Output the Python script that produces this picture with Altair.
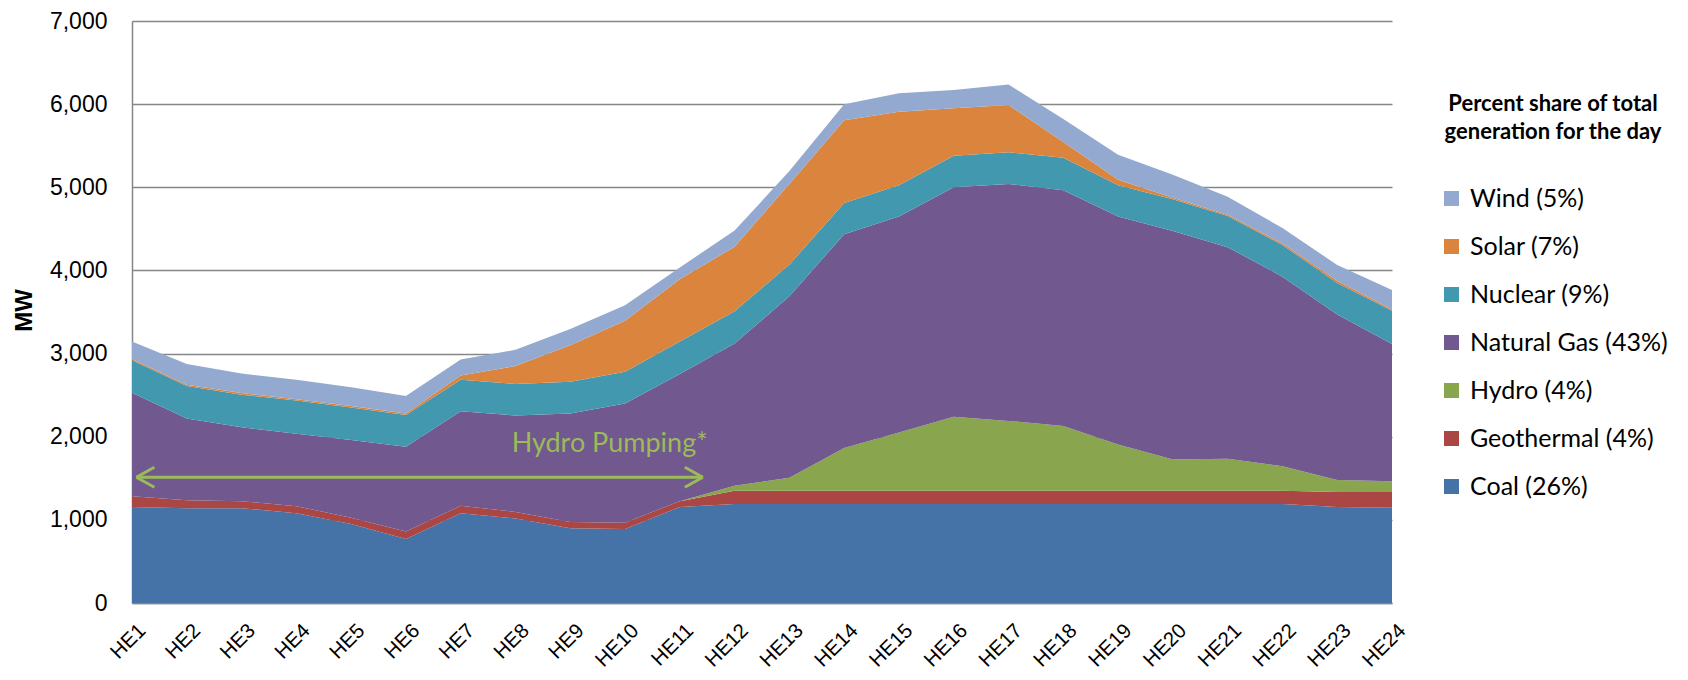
import altair as alt
import pandas as pd

# ---- data (MW) ----
hours = ["HE1", "HE2", "HE3", "HE4", "HE5", "HE6", "HE7", "HE8", "HE9", "HE10", "HE11", "HE12",
         "HE13", "HE14", "HE15", "HE16", "HE17", "HE18", "HE19", "HE20", "HE21", "HE22", "HE23", "HE24"]
hour_index = [1, 2, 3, 4, 5, 6, 7, 8, 9, 10, 11, 12, 13, 14, 15, 16, 17, 18, 19, 20, 21, 22, 23, 24]

coal = [1155, 1140, 1140, 1080, 950, 770, 1080, 1015, 900, 890, 1155, 1190,
        1190, 1190, 1190, 1190, 1190, 1190, 1190, 1190, 1190, 1190, 1155, 1145]
geothermal = [130, 95, 85, 85, 75, 90, 90, 80, 75, 75, 70, 160,
              160, 160, 160, 160, 160, 160, 160, 160, 160, 160, 180, 190]
hydro = [0, 0, 0, 0, 0, 0, 0, 0, 0, 0, 0, 60,
         155, 515, 700, 890, 840, 780, 555, 375, 385, 295, 145, 130]
natural_gas = [1245, 985, 890, 870, 935, 1020, 1135, 1160, 1305, 1435, 1530, 1710,
               2185, 2570, 2600, 2760, 2850, 2835, 2745, 2750, 2545, 2280, 1990, 1650]
nuclear = [390, 390, 390, 400, 390, 380, 380, 380, 380, 380, 390, 390,
           380, 375, 375, 380, 380, 390, 375, 380, 375, 380, 380, 400]
solar = [15, 15, 20, 15, 20, 20, 50, 215, 440, 615, 750, 775,
         970, 995, 885, 570, 570, 190, 65, 20, 15, 20, 25, 15]
wind = [210, 250, 235, 235, 225, 210, 195, 195, 195, 185, 140, 195,
        155, 195, 220, 220, 245, 275, 300, 275, 215, 185, 190, 235]

# stacking order: bottom -> top
series_names = ["Coal (26%)", "Geothermal (4%)", "Hydro (4%)", "Natural Gas (43%)",
                "Nuclear (9%)", "Solar (7%)", "Wind (5%)"]
series_values = [coal, geothermal, hydro, natural_gas, nuclear, solar, wind]
series_colors = ["#4572A7", "#AA4643", "#89A54E", "#71588F", "#4198AF", "#DB843D", "#93A9CF"]

legend_title = ["Percent share of total", "generation for the day"]
y_ticks = [0, 1000, 2000, 3000, 4000, 5000, 6000, 7000]

# annotation
annot_text = ["Hydro Pumping*"]
annot_x = [7.93]
annot_y = [1822]
arrow_x = [1.08, 11.42]
arrow_y = [1512, 1512]
green = "#9BBB59"

# ---- build table ----
rows = []
for k, (name, vals) in enumerate(zip(series_names, series_values)):
    for i, v in zip(hour_index, vals):
        rows.append({"idx": i, "value": v, "source": name, "stack": k})
df = pd.DataFrame(rows)

label_js = "[" + ",".join("'" + h + "'" for h in hours) + "]"

x_scale = alt.Scale(domain=[1, 24], nice=False, zero=False)
y_scale = alt.Scale(domain=[0, 7000], nice=False)
x_axis = alt.Axis(
    values=hour_index, labelExpr=label_js + "[datum.value - 1]",
    grid=False, ticks=False, domainColor="#868686", domainWidth=1.5,
    labelAngle=-45, labelAlign="right", labelBaseline="top", labelPadding=17, labelOffset=3,
    labelFont="Liberation Sans", labelFontSize=20.5, labelColor="#000000",
    title=None,
)
y_axis = alt.Axis(
    values=y_ticks, format=",.0f",
    grid=True, gridColor="#868686", gridWidth=1.3, ticks=False,
    domainColor="#868686", domainWidth=1.5,
    labelFont="Liberation Sans", labelFontSize=23, labelColor="#000000", labelPadding=25,
    title="MW", titleFont="Liberation Sans", titleFontWeight="bold", titleFontSize=24,
    titleColor="#000000", titleAngle=-90, titleX=-108, titleY=289,
    titleAlign="center", titleBaseline="middle",
)


def xe():
    return alt.X("idx:Q", scale=x_scale, axis=x_axis)


def ye(**kw):
    return alt.Y("value:Q", scale=y_scale, axis=y_axis, **kw)


areas = alt.Chart(df).mark_area(opacity=1, interpolate="linear").encode(
    x=xe(),
    y=ye(stack="zero"),
    color=alt.Color(
        "source:N",
        scale=alt.Scale(domain=series_names[::-1], range=series_colors[::-1]),
        legend=alt.Legend(
            title=legend_title, orient="none", legendX=1307, legendY=73,
            symbolType="square", symbolSize=225, symbolStrokeWidth=0,
            labelFont="Lato", labelFontSize=25, labelColor="#000000", labelOffset=6,
            labelLimit=400, titleLimit=400,
            rowPadding=22, padding=0,
            titleFont="Lato", titleFontSize=22, titleFontWeight="bold", titleColor="#000000",
            titleAnchor="middle", titleAlign="center", titleLineHeight=28, titlePadding=42,
        ),
    ),
    order=alt.Order("stack:Q", sort="ascending"),
)

arrow_df = pd.DataFrame({"idx": arrow_x, "value": arrow_y})
arrow_line = alt.Chart(arrow_df).mark_line(color=green, strokeWidth=3).encode(
    x=xe(), y=ye()
)
left_head = alt.Chart(arrow_df.iloc[[0]]).mark_point(
    shape="M0,0L1.8,-1M0,0L1.8,1", size=400, filled=False, color=green, strokeWidth=3, opacity=1
).encode(x=xe(), y=ye())
right_head = alt.Chart(arrow_df.iloc[[1]]).mark_point(
    shape="M0,0L-1.8,-1M0,0L-1.8,1", size=400, filled=False, color=green, strokeWidth=3, opacity=1
).encode(x=xe(), y=ye())

text_df = pd.DataFrame({"idx": annot_x, "value": annot_y, "label": annot_text})
label = alt.Chart(text_df).mark_text(
    align="left", baseline="alphabetic", font="Lato", fontSize=27, color=green
).encode(x=xe(), y=ye(), text="label:N")

chart = alt.layer(areas, arrow_line, left_head, right_head, label).properties(
    width=1260, height=582,
    padding={"left": 124, "top": 13, "right": 288, "bottom": 69},
    autosize=alt.AutoSizeParams(type="none"),
    background="white",
).configure_view(stroke=None)

chart.save("out.html", embed_options={"renderer": "svg", "actions": False})
